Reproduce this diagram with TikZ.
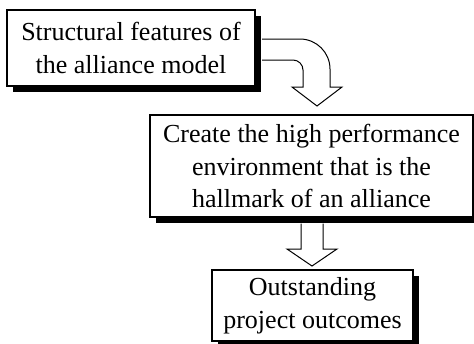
\documentclass[tikz,border=0pt]{standalone}
\usepackage{fontspec}
\setmainfont{Liberation Serif}
\usetikzlibrary{shadows}
\begin{document}
\begin{tikzpicture}[x=1pt,y=-1pt,
  boxstyle/.style={draw=black,fill=white,line width=1.3pt,inner sep=0pt,align=center,
    font=\fontsize{26}{32.5}\selectfont,
    drop shadow={shadow xshift=5.5pt,shadow yshift=-5.5pt,fill=black,opacity=1}},
  arrowline/.style={draw=black,line width=1pt,line join=miter}]
\useasboundingbox (0,0) rectangle (474,343);
\fill[white] (0,0) rectangle (474,343);
% boxes
\node[boxstyle,minimum width=248pt,minimum height=76pt] (b1) at (131,48)
  {Structural features of\\the alliance model};
\node[boxstyle,minimum width=323pt,minimum height=102pt] (b2) at (311.5,166)
  {Create the high performance\\environment that is the\\hallmark of an alliance};
\node[boxstyle,minimum width=201pt,minimum height=71pt] (b3) at (312.5,305.5)
  {Outstanding\\project outcomes};
% curved block arrow
\coordinate (c1o) at (262,39);
\coordinate (c1i) at (262,60);
\draw[arrowline] (c1o) -- (300,39) .. controls (316.5,39) and (330,52.5) .. (330,69) -- (330,87)
  -- (342,87) -- (317,106) -- (292,87) -- (303,87) -- (303,70)
  .. controls (303,64.5) and (298.5,60) .. (293,60) -- (c1i);
% straight block arrow
\coordinate (s2) at (312,223.5);
\draw[arrowline] (301,223.5) -- (301,249) -- (287,249) -- (312,266) -- (337,249)
  -- (323,249) -- (323,223.5);
\end{tikzpicture}
\end{document}
